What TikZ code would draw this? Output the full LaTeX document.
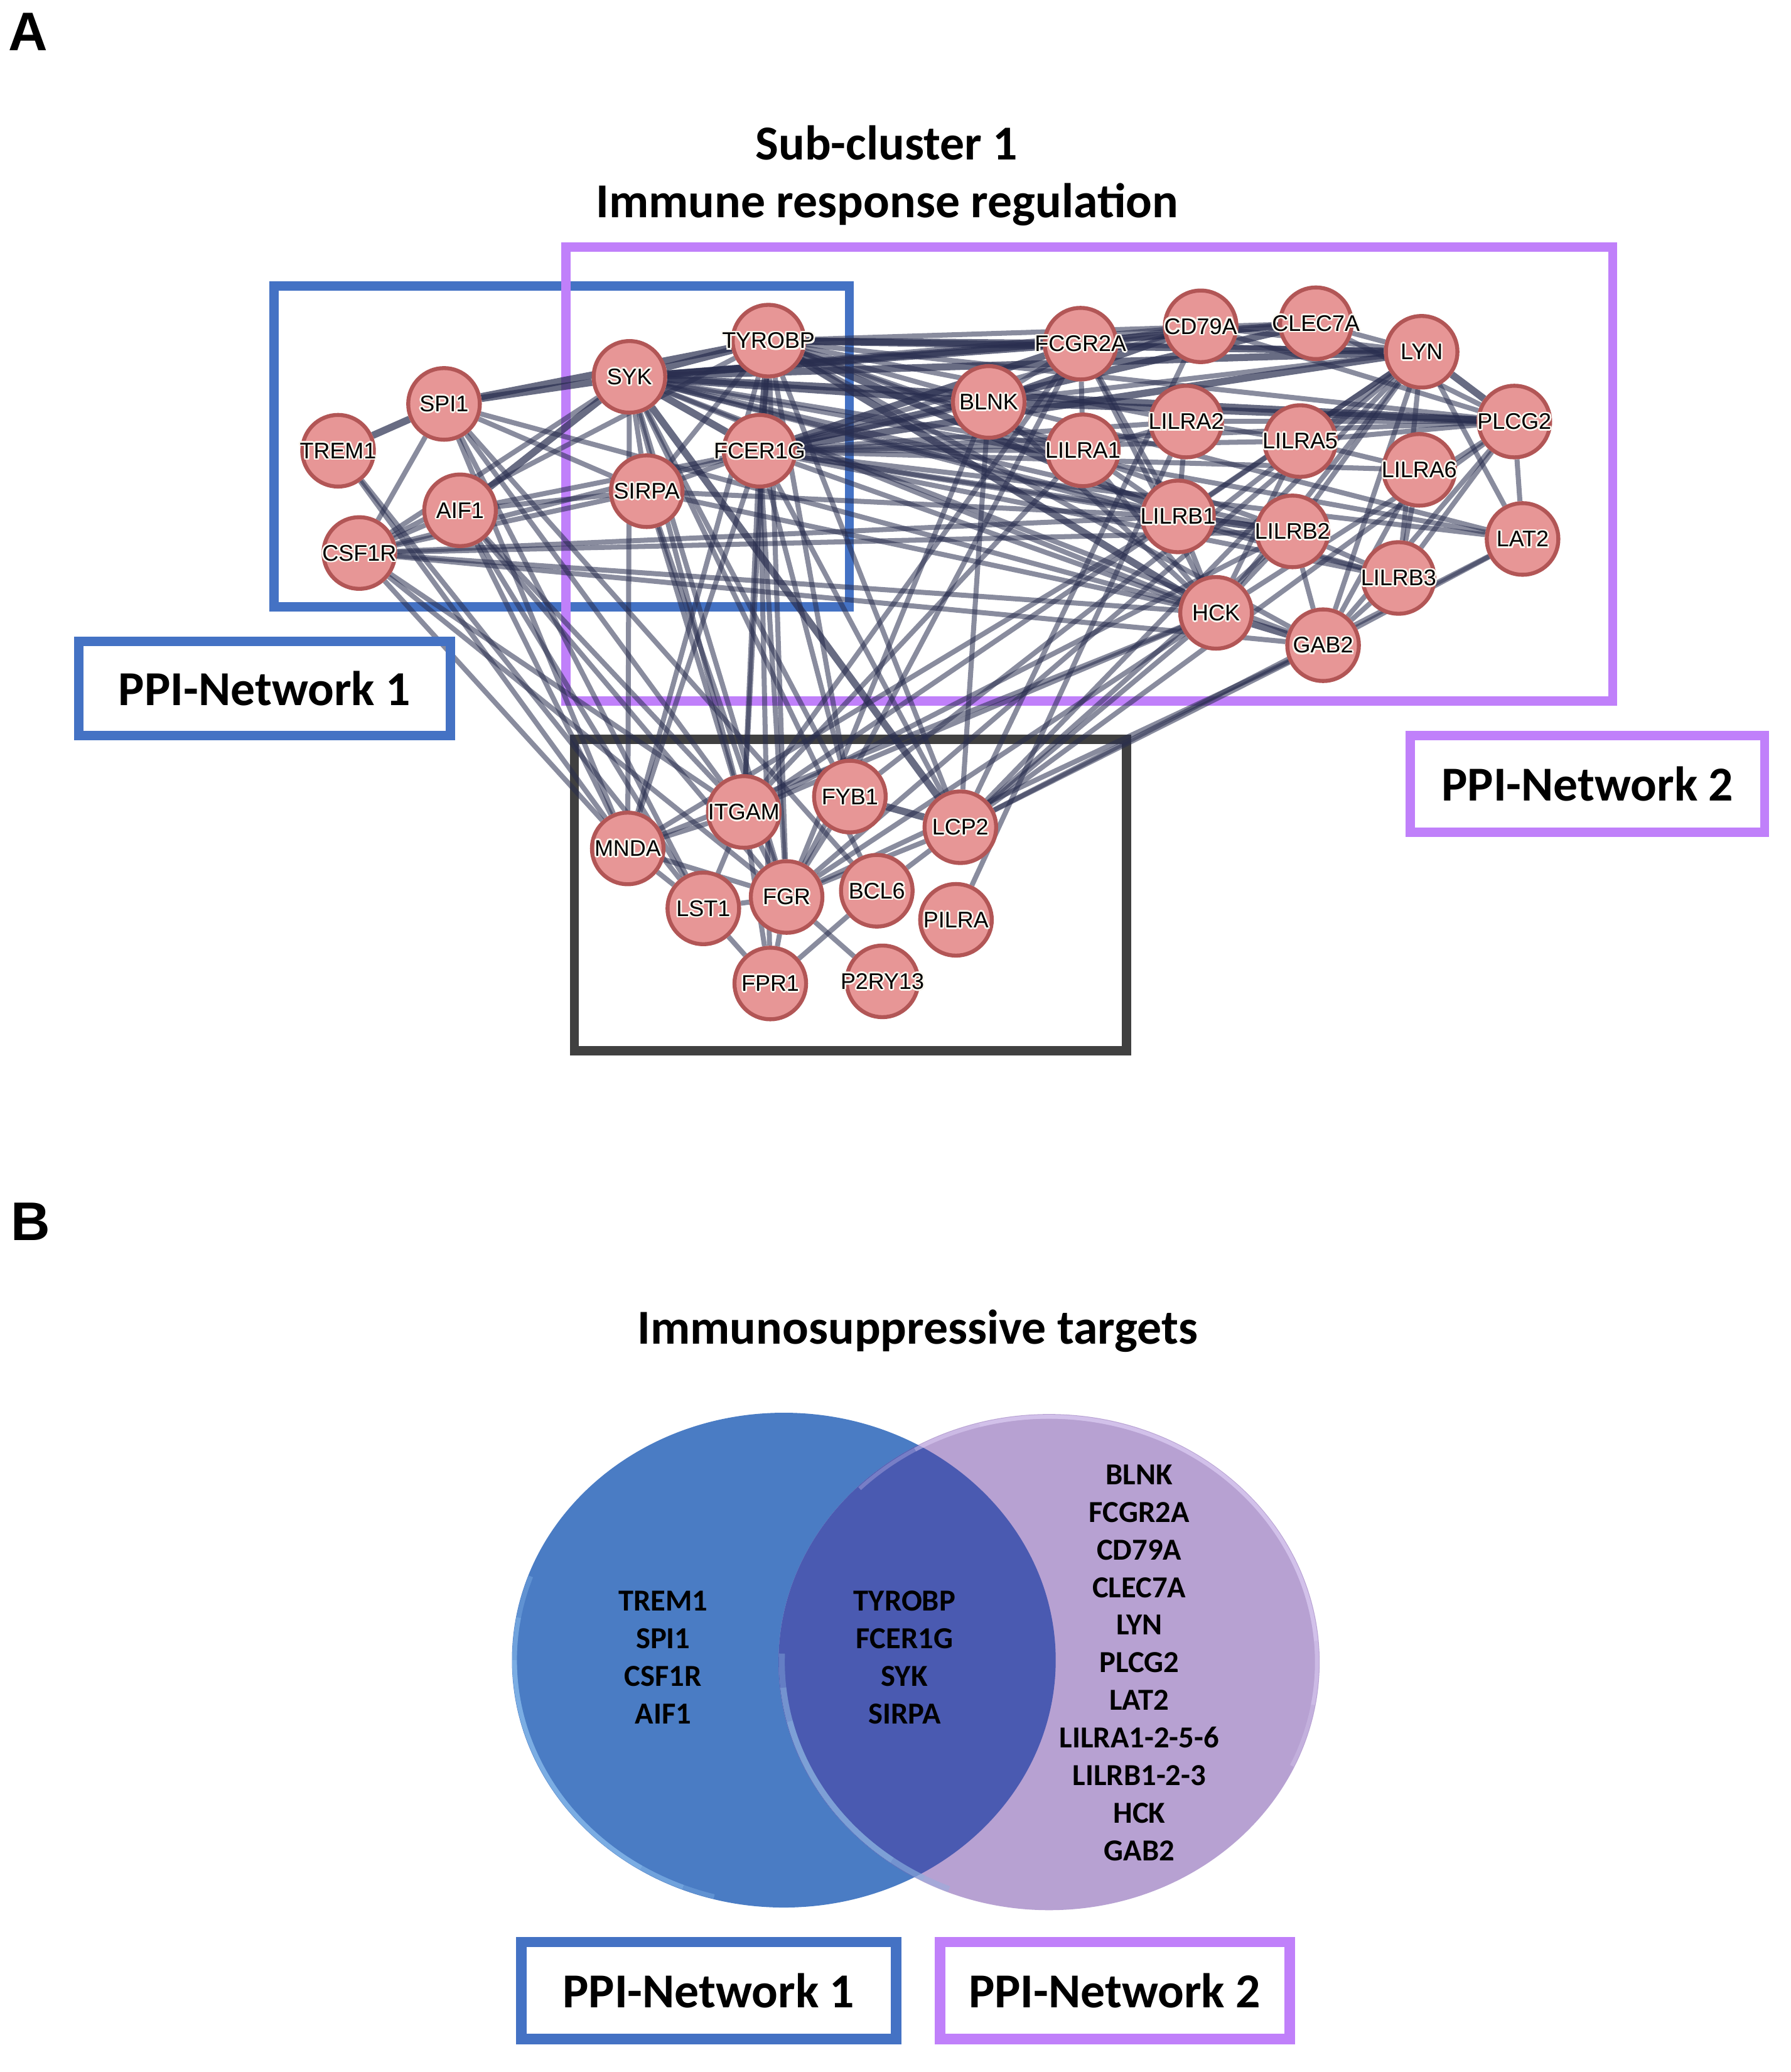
\documentclass[tikz,border=0pt]{standalone}
\usepackage{fontspec}
\setmainfont{Carlito}
\newfontfamily\arial{Liberation Sans}
\pgfdeclarelayer{boxes}
\pgfdeclarelayer{edges}
\pgfsetlayers{boxes,edges,main}
\definecolor{nodefill}{RGB}{231,150,150}
\definecolor{nodeedge}{RGB}{178,86,86}
\definecolor{edgecol}{RGB}{40,45,78}
\definecolor{boxblue}{RGB}{68,114,196}
\definecolor{boxpurple}{RGB}{192,128,250}
\definecolor{boxgray}{RGB}{64,64,64}
\definecolor{halocol}{RGB}{250,247,240}
\definecolor{vblue}{RGB}{74,124,196}
\definecolor{vpurple}{RGB}{183,161,210}
\definecolor{voverlap}{RGB}{74,90,177}
\definecolor{rimblue}{RGB}{150,200,245}
\definecolor{rimpurple}{RGB}{226,212,248}
\definecolor{rimmid}{RGB}{140,180,225}
\newcommand\halo[1]{\leavevmode
 \rlap{\textcolor{halocol}{\kern1.3pt #1}}%
 \rlap{\textcolor{halocol}{\kern-1.3pt #1}}%
 \rlap{\textcolor{halocol}{\raisebox{1.3pt}{#1}}}%
 \rlap{\textcolor{halocol}{\raisebox{-1.3pt}{#1}}}%
 \rlap{\textcolor{halocol}{\kern1pt\raisebox{1pt}{#1}}}%
 \rlap{\textcolor{halocol}{\kern-1pt\raisebox{1pt}{#1}}}%
 \rlap{\textcolor{halocol}{\kern1pt\raisebox{-1pt}{#1}}}%
 \rlap{\textcolor{halocol}{\kern-1pt\raisebox{-1pt}{#1}}}%
 #1}
\newcommand\gn[4]{\node[gene,label={[glab]center:\halo{#4}}] (#1) at (#2,#3) {};}
\tikzset{
 gene/.style={circle, draw=nodeedge, fill=nodefill, line width=3pt, minimum size=54pt, inner sep=0pt},
 glab/.style={font=\arial\fontsize{17}{17}\selectfont, inner sep=0pt, text=black},
 e/.style={draw=edgecol, draw opacity=0.55, line width=3.8pt},
 et/.style={draw=edgecol, draw opacity=0.7, line width=5.4pt},
 nbox/.style={line width=7pt},
 title/.style={font=\bfseries\fontsize{36.8}{40}\selectfont, inner sep=0pt},
 vtext/.style={font=\bfseries\fontsize{23}{28.35}\selectfont, align=center, inner sep=0pt},
}
\begin{document}
\begin{tikzpicture}[x=1pt,y=-1pt]
\useasboundingbox (0,0) rectangle (1350,1562);
% panel letters and titles
\node[font=\arial\bfseries\fontsize{41}{41}\selectfont, anchor=base west, inner sep=0pt] (lblA) at (6,38) {A};
\node[font=\arial\bfseries\fontsize{41}{41}\selectfont, anchor=base west, inner sep=0pt] (lblB) at (8,935) {B};
\node[title, anchor=base] (t1) at (668.5,120.7) {Sub-cluster 1};
\node[title, anchor=base] (t2) at (669,164) {Immune response regulation};
\node[title, anchor=base] (t3) at (692,1013) {Immunosuppressive targets};
% grouping boxes
\begin{pgfonlayer}{boxes}
\draw[boxblue, nbox] (206.5,215.6) rectangle (640.4,457.6);
\draw[boxpurple, nbox] (426.6,186.3) rectangle (1216,528.6);
\draw[boxgray, nbox] (433.1,557.5) rectangle (849.5,792);
\end{pgfonlayer}
\node[title, draw=boxblue, line width=7pt, minimum width=280pt, minimum height=71pt] (pn1) at (199.5,519) {PPI-Network 1};
\node[title, draw=boxpurple, line width=7pt, minimum width=267pt, minimum height=73pt] (pn2) at (1197,591) {PPI-Network 2};
% genes
\gn{trem}{254.9}{339.8}{TREM1}
\gn{spi}{334.8}{304.5}{SPI1}
\gn{aif}{346.9}{384.7}{AIF1}
\gn{csf}{270.9}{416.9}{CSF1R}
\gn{syk}{474.6}{284.1}{SYK}
\gn{tyr}{579.4}{256.8}{TYROBP}
\gn{fce}{572.7}{339.8}{FCER1G}
\gn{sir}{487.6}{370.3}{SIRPA}
\gn{blnk}{745.5}{303}{BLNK}
\gn{fcg}{814.7}{259.1}{FCGR2A}
\gn{cd79}{905.3}{246}{CD79A}
\gn{clec}{992.2}{243.7}{CLEC7A}
\gn{lyn}{1071.9}{265.2}{LYN}
\gn{plcg}{1141.8}{317.8}{PLCG2}
\gn{la2}{894.4}{317.8}{LILRA2}
\gn{la1}{816.5}{339.5}{LILRA1}
\gn{la5}{980.3}{332.5}{LILRA5}
\gn{la6}{1070.1}{354.2}{LILRA6}
\gn{lb1}{888.2}{389.3}{LILRB1}
\gn{lb2}{974.5}{400.6}{LILRB2}
\gn{lat}{1148}{406.3}{LAT2}
\gn{lb3}{1054.5}{435.7}{LILRB3}
\gn{hck}{916.9}{462}{HCK}
\gn{gab}{997.6}{486.4}{GAB2}
\gn{mnda}{473.3}{639.6}{MNDA}
\gn{itgam}{560.8}{612.1}{ITGAM}
\gn{fyb}{640.8}{600.5}{FYB1}
\gn{lcp}{724.1}{623.6}{LCP2}
\gn{lst}{530.3}{684.8}{LST1}
\gn{fgr}{593.1}{676.2}{FGR}
\gn{bcl}{661.1}{671.5}{BCL6}
\gn{pilra}{720.8}{693.4}{PILRA}
\gn{fpr}{580.8}{741.4}{FPR1}
\gn{p2r}{665.3}{739.8}{P2RY13}
% interactions
\begin{pgfonlayer}{edges}
\foreach \a/\b in {trem/lst, trem/mnda, spi/hck, spi/csf, spi/mnda, spi/lst, spi/sir, spi/itgam, aif/csf, aif/lst, aif/mnda, aif/sir, aif/fce, aif/itgam, aif/fgr,
 csf/tyr, csf/fce, csf/sir, csf/lb1, csf/lb2, csf/hck, csf/gab, csf/itgam, csf/mnda, csf/syk, csf/fgr,
 sir/syk, sir/tyr, sir/fce, sir/itgam, sir/fgr, sir/hck, sir/lb1,
 syk/cd79, syk/lat, syk/lb1, syk/lb2, syk/hck, syk/gab, syk/fgr, syk/itgam, syk/fyb, syk/la1, syk/lb3, syk/mnda, syk/bcl,
 tyr/clec, tyr/plcg, tyr/blnk, tyr/la1, tyr/la2, tyr/lb2, tyr/itgam, tyr/fgr, tyr/lcp, tyr/mnda, tyr/gab, tyr/fyb,
 fce/blnk, fce/la1, fce/la2, fce/la5, fce/la6, fce/lb1, fce/lb2, fce/lb3, fce/hck, fce/lat, fce/itgam, fce/fgr, fce/mnda, fce/lcp, fce/fyb, fce/plcg, fce/cd79, fce/fpr,
 blnk/lyn, blnk/lcp, blnk/fcg, blnk/hck, blnk/lat, blnk/fgr,
 fcg/lyn, fcg/hck, fcg/lb1, fcg/itgam, fcg/fgr, fcg/clec, fcg/cd79, fcg/la1,
 cd79/lyn, cd79/plcg, cd79/lcp, clec/lyn, clec/plcg,
 lyn/lat, lyn/hck, lyn/gab, lyn/lb1, lyn/lb2, lyn/lb3, lyn/lcp, lyn/fgr, lyn/itgam, lyn/fyb,
 plcg/lat, plcg/gab, plcg/lb3, plcg/hck, plcg/lcp, plcg/la2, plcg/la5,
 lat/gab, lat/lcp,
 la1/la2, la1/lb1, la1/hck, la1/itgam, la2/lb1, la2/la5, la5/la6, la5/hck, la6/lb3, la6/gab, la2/pilra,
 lb1/hck, lb2/lb3, lb2/hck, lb2/gab, lb3/gab, lb1/lb3, lb1/mnda, lb2/itgam, lb2/lcp,
 hck/fgr, hck/itgam, hck/lcp, hck/mnda, gab/lcp, gab/fgr,
 mnda/itgam, mnda/lst, mnda/fgr, itgam/lst, itgam/fgr, itgam/fpr, fyb/fgr, lcp/fgr, lcp/bcl,
 lst/fgr, lst/fpr, fgr/fpr, fgr/p2r, bcl/fpr, bcl/spi}
 \draw[e] (\a) -- (\b);
\foreach \a/\b in {trem/spi, spi/syk, spi/tyr, aif/syk, syk/tyr, syk/fce, tyr/fce, syk/blnk, syk/fcg, syk/clec, syk/lyn, syk/plcg, syk/lcp,
 tyr/fcg, tyr/lyn, tyr/lb1, tyr/hck, fce/fcg, fce/lyn, fce/clec, blnk/plcg, blnk/cd79, lyn/plcg, lb1/lb2, hck/gab, fyb/lcp}
 \draw[et] (\a) -- (\b);
\end{pgfonlayer}
% Venn diagram
\fill[vblue] (591,1251.5) ellipse [x radius=205, y radius=186.5];
\fill[vpurple] (791,1253) ellipse [x radius=204, y radius=187];
\begin{scope}
\clip (591,1251.5) ellipse [x radius=205, y radius=186.5];
\fill[voverlap] (791,1253) ellipse [x radius=204, y radius=187];
\end{scope}
% soft bevel rims (stacked arcs for tapered ends)
\foreach \s/\t in {200/105, 190/112, 180/122}
 \draw[rimblue, line width=3.5pt, opacity=0.3] (591,1251.5) ++(\s:203 and 184.5) arc[start angle=\s, end angle=\t, x radius=203, y radius=184.5];
\foreach \s/\t in {225/385, 240/370, 255/355}
 \draw[rimpurple, line width=3pt, opacity=0.3] (791,1253) ++(\s:202 and 185) arc[start angle=\s, end angle=\t, x radius=202, y radius=185];
\foreach \s/\t in {182/112, 174/118, 166/126}
 \draw[rimmid, line width=4.5pt, opacity=0.4] (791,1253) ++(\s:201.5 and 184.5) arc[start angle=\s, end angle=\t, x radius=201.5, y radius=184.5];
\node[vtext] (vleft) at (500,1249.5) {TREM1\\SPI1\\CSF1R\\AIF1};
\node[vtext] (vmid) at (682,1249.5) {TYROBP\\FCER1G\\SYK\\SIRPA};
\node[vtext] (vright) at (859,1253.5) {BLNK\\FCGR2A\\CD79A\\CLEC7A\\LYN\\PLCG2\\LAT2\\LILRA1-2-5-6\\LILRB1-2-3\\HCK\\GAB2};
\node[title, draw=boxblue, line width=8pt, minimum width=282.6pt, minimum height=73pt] (vb1) at (534.3,1500.5) {PPI-Network 1};
\node[title, draw=boxpurple, line width=8pt, minimum width=263.7pt, minimum height=73pt] (vb2) at (840.5,1500.5) {PPI-Network 2};
\end{tikzpicture}
\end{document}
